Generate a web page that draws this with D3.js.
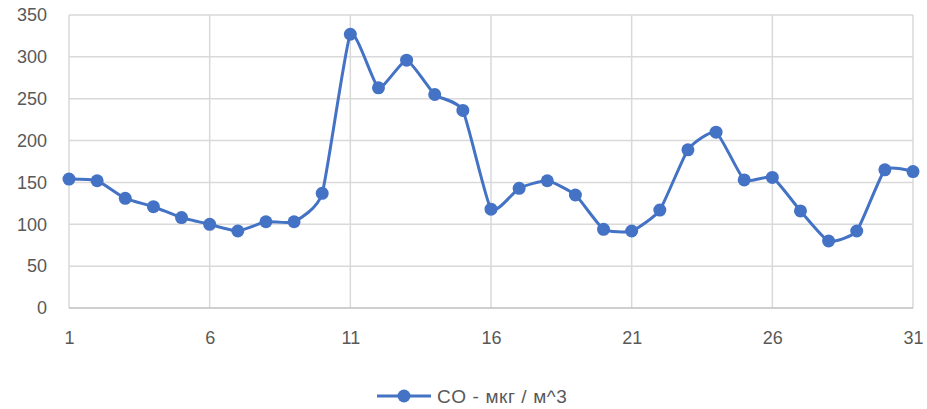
<!DOCTYPE html>
<html><head><meta charset="utf-8">
<script src="https://cdn.jsdelivr.net/npm/d3@7"></script>
<style>body{margin:0;background:#fff}svg{display:block}text{font-family:"Liberation Sans","DejaVu Sans",sans-serif;fill:#595959}</style>
</head><body><svg id="c" width="927" height="409"></svg>
<script>
const days = d3.range(1, 32);
const coValues = [154,152,131,121,108,100,92,103,103,137,327,263,296,255,236,118,143,152,135,94,92,117,189,210,153,156,116,80,92,165,163];
const yTicks = [0,50,100,150,200,250,300,350];
const xTicks = [1,6,11,16,21,26,31];
const seriesName = "CO - мкг / м^3";

const svg = d3.select("#c");
const m = {l:69, r:913, t:15, b:308};
const x = d3.scaleLinear().domain([1,31]).range([m.l, m.r]);
const y = d3.scaleLinear().domain([0,350]).range([m.b, m.t]);
const blue = "#4472C4";

svg.append("g").selectAll("line").data(yTicks.filter(d=>d>0)).join("line")
  .attr("x1", m.l).attr("x2", m.r).attr("y1", d=>y(d)).attr("y2", d=>y(d))
  .attr("stroke", "#d9d9d9").attr("stroke-width", 1.5);
svg.append("g").selectAll("line").data(xTicks).join("line")
  .attr("x1", d=>x(d)).attr("x2", d=>x(d)).attr("y1", m.t).attr("y2", m.b)
  .attr("stroke", "#d9d9d9").attr("stroke-width", 1.5);
svg.append("line").attr("x1", m.l).attr("x2", m.r).attr("y1", y(0)).attr("y2", y(0))
  .attr("stroke", "#bfbfbf").attr("stroke-width", 1.5);

const yAxis = d3.axisLeft(y).tickValues(yTicks).tickSize(0).tickPadding(22);
const gy = svg.append("g").attr("transform", `translate(${m.l},0)`).call(yAxis);
gy.select(".domain").remove();
gy.selectAll("text").style("font-size","18px").attr("fill","#595959");

const xAxis = d3.axisBottom(x).tickValues(xTicks).tickSize(0).tickPadding(23);
const gx = svg.append("g").attr("transform", `translate(0,${m.b})`).call(xAxis);
gx.select(".domain").remove();
gx.selectAll("text").style("font-size","18px").attr("fill","#595959");

const data = days.map((d,i)=>({d, v: coValues[i]}));
const line = d3.line().x(p=>x(p.d)).y(p=>y(p.v)).curve(d3.curveCardinal.tension(0.5));
svg.append("path").datum(data).attr("d", line).attr("fill","none")
  .attr("stroke", blue).attr("stroke-width", 3);
svg.append("g").selectAll("circle").data(data).join("circle")
  .attr("cx", p=>x(p.d)).attr("cy", p=>y(p.v)).attr("r", 6.5).attr("fill", blue);

const lg = svg.append("g");
lg.append("line").attr("x1", 377).attr("x2", 431).attr("y1", 396).attr("y2", 396)
  .attr("stroke", blue).attr("stroke-width", 3);
lg.append("circle").attr("cx", 404).attr("cy", 396).attr("r", 6.5).attr("fill", blue);
lg.append("text").attr("x", 437).attr("y", 402.5).style("font-size","19px").style("letter-spacing","0.6px").text(seriesName);
</script></body></html>
